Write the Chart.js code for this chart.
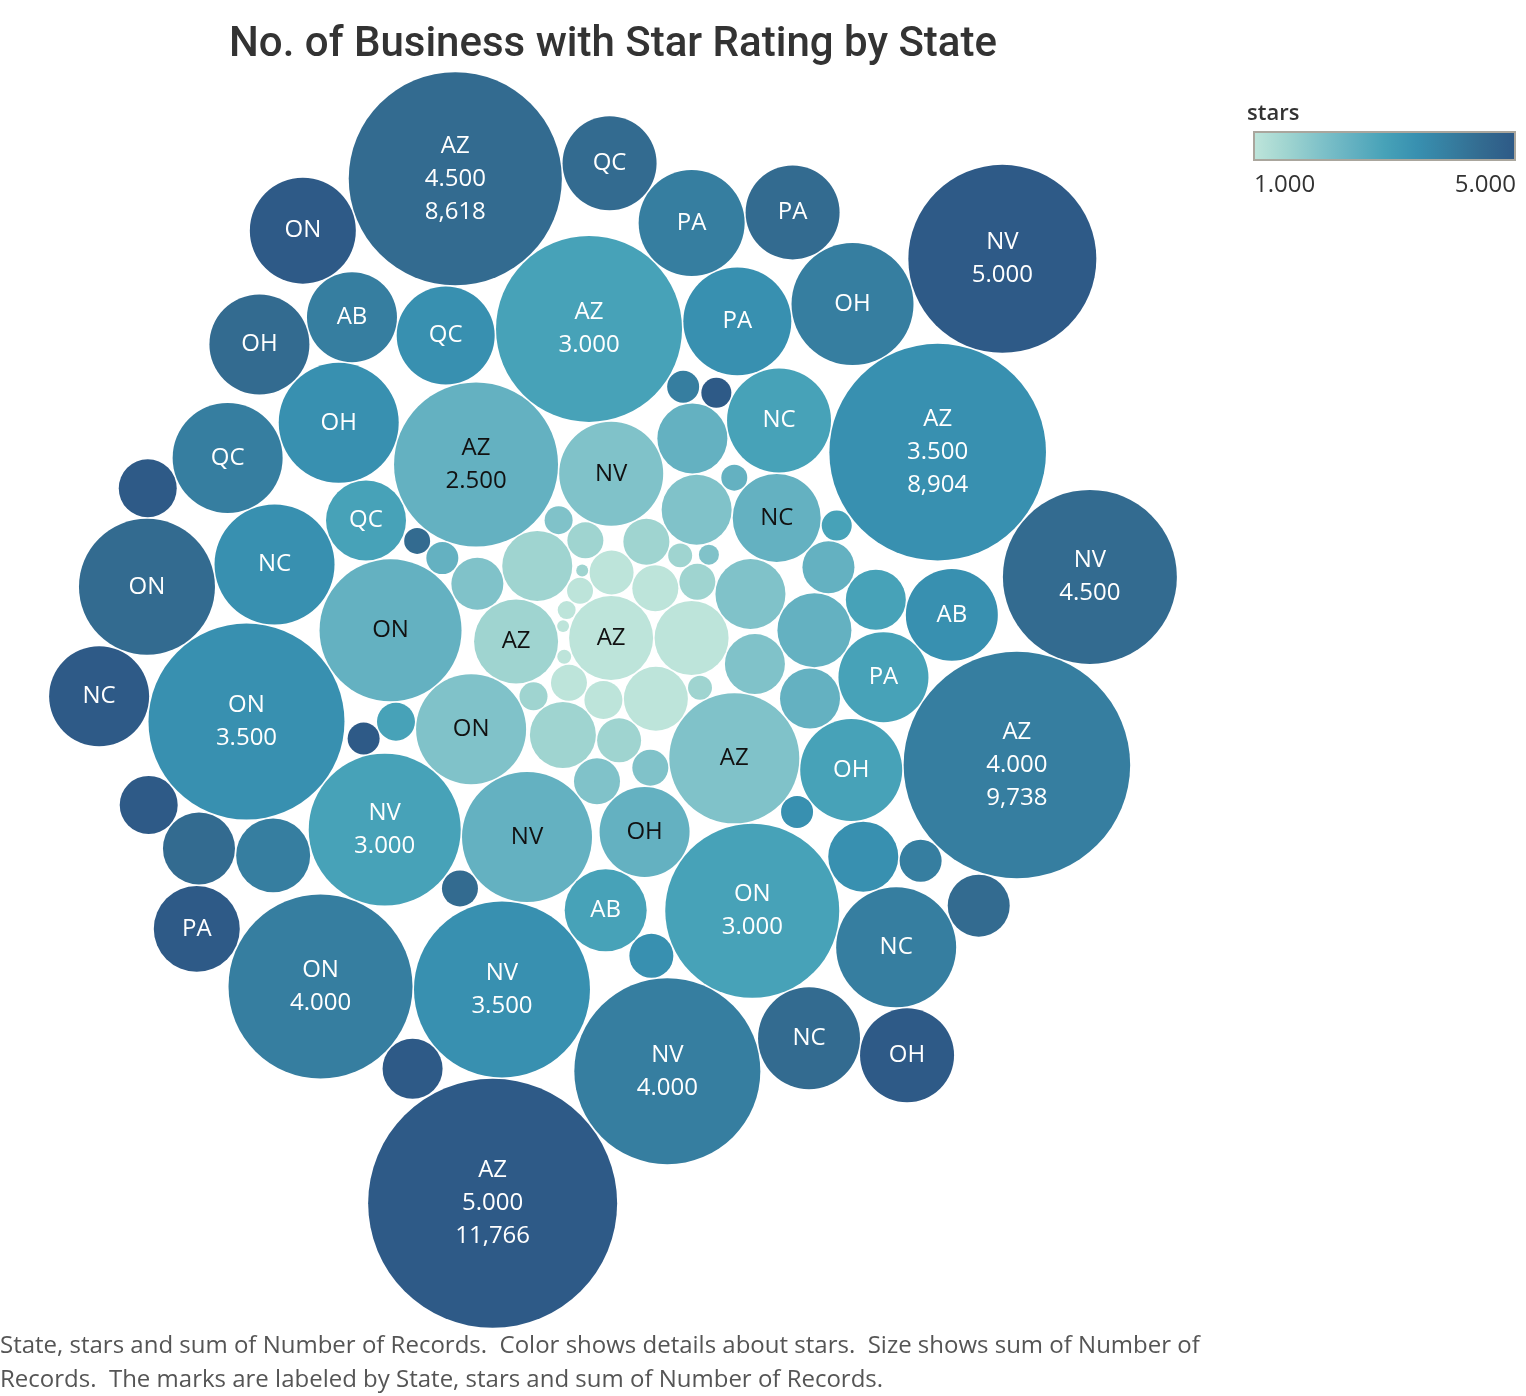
<!DOCTYPE html>
<html>
<head>
<meta charset="utf-8">
<script src="https://cdn.jsdelivr.net/npm/chart.js@4"></script>
<style>
html,body{margin:0;padding:0;background:#fff;}
#wrap{position:relative;width:1526px;height:1396px;overflow:hidden;}
#chart{position:absolute;left:0;top:0;}
#title{position:absolute;left:0;width:1226px;top:17px;text-align:center;font:500 42px Roboto,'Open Sans',sans-serif;color:#333;white-space:nowrap;}
#legTitle{position:absolute;left:1247px;top:96px;font:600 22px 'Open Sans',sans-serif;color:#333;}
#legBar{position:absolute;left:1253px;top:131px;width:263px;height:30px;box-sizing:border-box;border:2px solid #aaa69d;}
#legMin{position:absolute;left:1254px;top:166px;font:24px 'Open Sans',sans-serif;color:#333;}
#legMax{position:absolute;right:10px;top:166px;font:24px 'Open Sans',sans-serif;color:#333;}
#footer{position:absolute;left:0;top:1327px;font:24px 'Open Sans',sans-serif;line-height:34px;color:#555;white-space:nowrap;}
</style>
</head>
<body>
<div id="wrap">
  <canvas id="chart" width="1526" height="1396"></canvas>
  <div id="title">No. of Business with Star Rating by State</div>
  <div id="legTitle">stars</div>
  <div id="legBar"></div>
  <div id="legMin">1.000</div>
  <div id="legMax">5.000</div>
  <div id="footer">State, stars and sum of Number of Records.&nbsp; Color shows details about stars.&nbsp; Size shows sum of Number of<br>Records.&nbsp; The marks are labeled by State, stars and sum of Number of Records.</div>
</div>
<script>
// ---- DATA ----
const states = [
  'AZ','NV','ON','NC','OH','PA','WI','QC','AB','IL','SC',
  'AZ','NV','ON','NC','OH','PA','QC','WI','AB','IL','SC',
  'AZ','NV','ON','OH','NC','QC','PA','AB','WI','IL','SC',
  'AZ','ON','NV','NC','OH','PA','QC','AB','WI','IL','SC',
  'AZ','ON','NV','NC','OH','PA','AB','QC','WI','IL','SC',
  'AZ','ON','NV','OH','NC','PA','QC','AB','WI','IL','SC',
  'AZ','ON','NV','NC','OH','PA','QC','AB','WI','IL','SC',
  'AZ','NV','ON','NC','OH','PA','QC','AB','WI','IL','SC',
  'AZ','NV','ON','NC','OH','PA','QC','AB','WI','IL','SC'
];
const stars = [
  5,5,5,5,5,5,5,5,5,5,5,
  4.5,4.5,4.5,4.5,4.5,4.5,4.5,4.5,4.5,4.5,4.5,
  4,4,4,4,4,4,4,4,4,4,4,
  3.5,3.5,3.5,3.5,3.5,3.5,3.5,3.5,3.5,3.5,3.5,
  3,3,3,3,3,3,3,3,3,3,3,
  2.5,2.5,2.5,2.5,2.5,2.5,2.5,2.5,2.5,2.5,2.5,
  2,2,2,2,2,2,2,2,2,2,2,
  1.5,1.5,1.5,1.5,1.5,1.5,1.5,1.5,1.5,1.5,1.5,
  1,1,1,1,1,1,1,1,1,1,1
];
const records = [
  11766,6707,2132,1898,1677,1403,683,638,638,194,171,
  8618,5745,3510,1974,1898,1677,1677,984,729,246,128,
  9738,6565,6424,2824,2732,2296,2132,1537,1039,335,194,
  8904,7290,5878,2732,2732,2213,1822,1606,930,367,194,
  6565,5745,4384,2052,1974,1537,1276,1214,683,274,171,
  5104,3826,3207,1537,1469,1039,930,683,513,194,128,
  3207,2296,2052,930,930,683,513,402,246,149,76,
  1339,930,826,402,367,246,246,149,109,109,27,
  1339,1039,777,402,367,274,246,128,37,27,61
];
const legendMin = '1.000';
const legendMax = '5.000';

// ---- STYLE ----
const W = 1526, H = 1396;
const CENTER_X = 613, CENTER_Y = 700;
const RADIUS_K = 124.5 / Math.sqrt(11766);   // px per sqrt(record)
const GAP = 1.5;
const colorStops = [
  [1.0,[189,228,218]],[1.5,[159,212,208]],[2.0,[128,194,201]],[2.5,[100,177,193]],
  [3.0,[71,162,184]],[3.5,[56,144,176]],[4.0,[54,126,160]],[4.5,[51,107,144]],[5.0,[46,90,135]]
];
function colorFor(s){
  for (let i=0;i<colorStops.length-1;i++){
    const [s0,c0]=colorStops[i],[s1,c1]=colorStops[i+1];
    if (s>=s0 && s<=s1){
      const t=(s-s0)/(s1-s0);
      const c=c0.map((v,k)=>Math.round(v+(c1[k]-v)*t));
      return 'rgb('+c.join(',')+')';
    }
  }
  return 'rgb('+colorStops[colorStops.length-1][1].join(',')+')';
}
document.getElementById('legBar').style.background =
  'linear-gradient(to right,' + colorStops.map((c,i)=>'rgb('+c[1].join(',')+') '+(i/(colorStops.length-1)*100)+'%').join(',') + ')';
document.getElementById('legMin').textContent = legendMin;
document.getElementById('legMax').textContent = legendMax;

// ---- PACKED LAYOUT (computed from values) ----
const items = states.map((st,i)=>({state:st, stars:stars[i], count:records[i], r:RADIUS_K*Math.sqrt(records[i])}));
const order = items.slice().sort((a,b)=> a.stars-b.stars || b.count-a.count);
const placed = [];
for (const it of order){
  if (placed.length===0){ it.x=0; it.y=0; placed.push(it); continue; }
  if (placed.length===1){ const a=placed[0]; it.x=a.x+a.r+it.r+GAP; it.y=a.y; placed.push(it); continue; }
  let best=null, bestD=Infinity;
  for (let i=0;i<placed.length;i++){
    const a=placed[i];
    const ra=a.r+it.r+GAP;
    for (let j=i+1;j<placed.length;j++){
      const b=placed[j];
      const rb=b.r+it.r+GAP;
      const dx=b.x-a.x, dy=b.y-a.y;
      const d=Math.hypot(dx,dy);
      if (d>ra+rb || d<Math.abs(ra-rb) || d===0) continue;
      const l=(ra*ra-rb*rb+d*d)/(2*d);
      const h=Math.sqrt(Math.max(0,ra*ra-l*l));
      const mx=a.x+l*dx/d, my=a.y+l*dy/d;
      for (const sg of [1,-1]){
        const px=mx+sg*h*(-dy)/d, py=my+sg*h*dx/d;
        const dist=px*px+py*py;
        if (dist>=bestD) continue;
        let ok=true;
        for (const c of placed){
          const rr=c.r+it.r+GAP-1e-6;
          const ex=px-c.x, ey=py-c.y;
          if (ex*ex+ey*ey<rr*rr){ ok=false; break; }
        }
        if (ok){ bestD=dist; best=[px,py]; }
      }
    }
  }
  it.x=best[0]; it.y=best[1];
  placed.push(it);
}
let minX=Infinity,maxX=-Infinity,minY=Infinity,maxY=-Infinity;
for (const c of items){ minX=Math.min(minX,c.x-c.r); maxX=Math.max(maxX,c.x+c.r); minY=Math.min(minY,c.y-c.r); maxY=Math.max(maxY,c.y+c.r); }
const offX = CENTER_X-(minX+maxX)/2, offY = CENTER_Y-(minY+maxY)/2;

const labelPlugin = {
  id:'bubbleLabels',
  afterDatasetsDraw(chart){
    const ctx=chart.ctx;
    const meta=chart.getDatasetMeta(0);
    ctx.save();
    ctx.font="24px 'Open Sans', sans-serif";
    ctx.textAlign='center';
    ctx.textBaseline='middle';
    meta.data.forEach((el,i)=>{
      const it=items[i];
      let lines=[];
      if (it.r>=100) lines=[it.state, it.stars.toFixed(3), it.count.toLocaleString('en-US')];
      else if (it.r>=75) lines=[it.state, it.stars.toFixed(3)];
      else if (it.r>=39) lines=[it.state];
      if (!lines.length) return;
      ctx.fillStyle = it.stars<=2.5 ? '#111' : '#fff';
      const lh=33;
      const y0=el.y-(lines.length-1)*lh/2;
      lines.forEach((t,k)=>ctx.fillText(t, el.x, y0+k*lh));
    });
    ctx.restore();
  }
};

new Chart(document.getElementById('chart'), {
  type:'bubble',
  data:{datasets:[{
    data: items.map(it=>({x:it.x+offX, y:it.y+offY, r:it.r})),
    backgroundColor: items.map(it=>colorFor(it.stars)),
    borderWidth:0, hoverBorderWidth:0, hoverRadius:0
  }]},
  options:{
    responsive:false, animation:false, events:[],
    layout:{padding:0, autoPadding:false},
    scales:{
      x:{type:'linear', min:0, max:W, display:false},
      y:{type:'linear', min:0, max:H, reverse:true, display:false}
    },
    plugins:{legend:{display:false}, tooltip:{enabled:false}, title:{display:false}}
  },
  plugins:[labelPlugin]
});
</script>
</body>
</html>
